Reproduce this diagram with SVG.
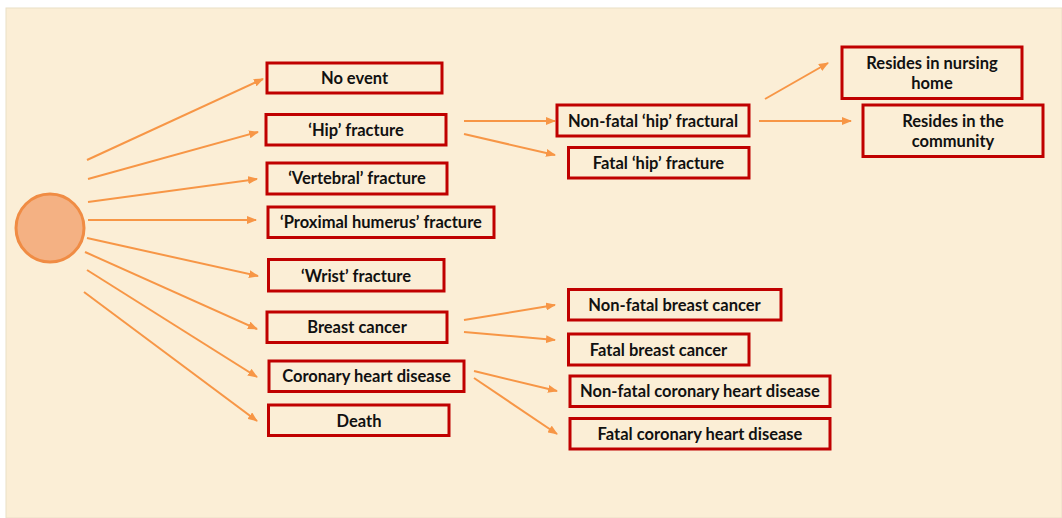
<svg xmlns="http://www.w3.org/2000/svg" width="1062" height="518" viewBox="0 0 1062 518">
  <defs>
    <marker id="arrow" markerWidth="10" markerHeight="8" refX="9" refY="4" orient="auto" markerUnits="userSpaceOnUse">
      <path d="M0,0 L10,4 L0,8 Z" fill="#F79646"/>
    </marker>
  </defs>
  <style>
    .box { fill: #FBEED6; stroke: #C00000; stroke-width: 3; }
    .lbl { font-family: Lato, "Liberation Sans", sans-serif; font-weight: bold; font-size: 16.5px; fill: #111; text-anchor: middle; }
    .conn line { stroke: #F79646; stroke-width: 2; marker-end: url(#arrow); }
  </style>

  <rect x="0" y="0" width="1062" height="518" fill="#ffffff"/>
  <rect x="6" y="8" width="1056" height="510" fill="#FBEED6" stroke="#EADFC6" stroke-width="1"/>

  <!-- start node -->
  <g id="start">
    <circle cx="50" cy="228" r="34" fill="#F4B183" stroke="#F08C44" stroke-width="3"/>
  </g>

  <!-- connectors -->
  <g id="connectors" class="conn">
    <line x1="87" y1="160" x2="263" y2="79"/>
    <line x1="88" y1="179" x2="258" y2="132"/>
    <line x1="88" y1="202" x2="257" y2="179"/>
    <line x1="88" y1="220" x2="256" y2="220"/>
    <line x1="87" y1="238" x2="258" y2="276"/>
    <line x1="85" y1="252" x2="257" y2="329"/>
    <line x1="87" y1="270" x2="257" y2="377"/>
    <line x1="84" y1="292" x2="257" y2="421"/>

    <line x1="464" y1="121" x2="555" y2="121"/>
    <line x1="464" y1="134" x2="555" y2="155"/>

    <line x1="765" y1="99" x2="828" y2="63"/>
    <line x1="759" y1="121" x2="851" y2="121"/>

    <line x1="464" y1="320" x2="555" y2="305"/>
    <line x1="464" y1="332" x2="555" y2="340"/>

    <line x1="474" y1="371" x2="557" y2="391"/>
    <line x1="474" y1="378" x2="557" y2="434"/>
  </g>

  <!-- first-level outcomes -->
  <g id="no-event">
    <rect class="box" x="267" y="63" width="175" height="30"/>
    <text class="lbl" x="354.5" y="84">No event</text>
  </g>
  <g id="hip-fracture">
    <rect class="box" x="266" y="114.5" width="180" height="30.5"/>
    <text class="lbl" x="356" y="135.5">‘Hip’ fracture</text>
  </g>
  <g id="vertebral-fracture">
    <rect class="box" x="267" y="163" width="180" height="31"/>
    <text class="lbl" x="357" y="184">‘Vertebral’ fracture</text>
  </g>
  <g id="humerus-fracture">
    <rect class="box" x="268" y="207" width="226" height="30.5"/>
    <text class="lbl" x="381" y="228">‘Proximal humerus’ fracture</text>
  </g>
  <g id="wrist-fracture">
    <rect class="box" x="268.5" y="259.5" width="175.5" height="31.5"/>
    <text class="lbl" x="356" y="281.5">‘Wrist’ fracture</text>
  </g>
  <g id="breast-cancer">
    <rect class="box" x="267" y="312" width="180" height="30.5"/>
    <text class="lbl" x="357" y="333">Breast cancer</text>
  </g>
  <g id="chd">
    <rect class="box" x="269" y="361" width="195" height="30.5"/>
    <text class="lbl" x="366.5" y="382">Coronary heart disease</text>
  </g>
  <g id="death">
    <rect class="box" x="268.5" y="405" width="180.5" height="30.5"/>
    <text class="lbl" x="359" y="426.5">Death</text>
  </g>

  <!-- second-level outcomes -->
  <g id="nonfatal-hip">
    <rect class="box" x="557" y="105" width="192" height="31"/>
    <text class="lbl" x="653" y="126.5">Non-fatal ‘hip’ fractural</text>
  </g>
  <g id="fatal-hip">
    <rect class="box" x="568.5" y="147.5" width="180.5" height="30.5"/>
    <text class="lbl" x="658.5" y="168.5">Fatal ‘hip’ fracture</text>
  </g>
  <g id="nursing-home">
    <rect class="box" x="842" y="47" width="180" height="51.5"/>
    <text class="lbl" x="932" y="68.5">Resides in nursing</text>
    <text class="lbl" x="932" y="89">home</text>
  </g>
  <g id="community">
    <rect class="box" x="863" y="105" width="180" height="51.5"/>
    <text class="lbl" x="953" y="126.5">Resides in the</text>
    <text class="lbl" x="953" y="146.5">community</text>
  </g>
  <g id="nonfatal-breast">
    <rect class="box" x="568.5" y="289.5" width="212.5" height="30.5"/>
    <text class="lbl" x="674.5" y="310.5">Non-fatal breast cancer</text>
  </g>
  <g id="fatal-breast">
    <rect class="box" x="568.5" y="334" width="180.5" height="31"/>
    <text class="lbl" x="658.5" y="355.5">Fatal breast cancer</text>
  </g>
  <g id="nonfatal-chd">
    <rect class="box" x="570" y="376" width="260" height="30.5"/>
    <text class="lbl" x="700" y="397">Non-fatal coronary heart disease</text>
  </g>
  <g id="fatal-chd">
    <rect class="box" x="570" y="418.5" width="260" height="30.5"/>
    <text class="lbl" x="700" y="440">Fatal coronary heart disease</text>
  </g>
</svg>
